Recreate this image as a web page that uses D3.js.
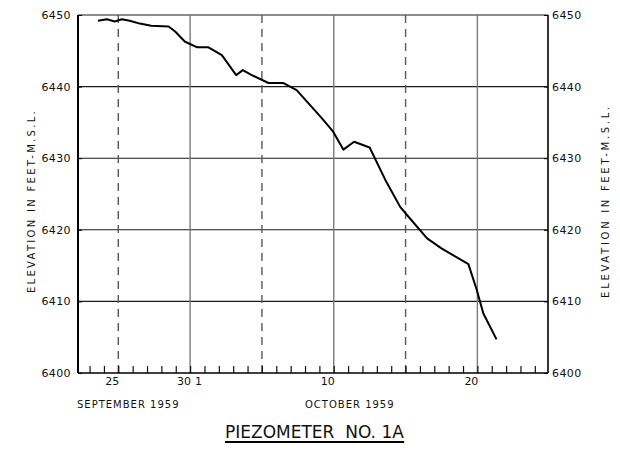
<!DOCTYPE html>
<html>
<head>
<meta charset="utf-8">
<script src="https://cdn.jsdelivr.net/npm/d3@7"></script>
<style>
  html, body { margin: 0; padding: 0; background: #fff; }
  svg { display: block; }
  text { font-family: "DejaVu Sans", sans-serif; fill: #111; }
</style>
</head>
<body>
<script>
// ---- data ----
const dates = [
  "1959-09-23 14:00", "1959-09-24 05:00", "1959-09-24 18:00", "1959-09-25 06:00",
  "1959-09-25 19:00", "1959-09-26 12:00", "1959-09-27 07:00", "1959-09-28 12:00",
  "1959-09-28 23:00", "1959-09-29 15:00", "1959-09-30 11:00", "1959-10-01 06:00",
  "1959-10-02 05:00", "1959-10-03 05:00", "1959-10-03 16:00", "1959-10-04 07:00",
  "1959-10-05 11:00", "1959-10-06 12:00", "1959-10-07 10:00", "1959-10-09 04:00",
  "1959-10-09 23:00", "1959-10-10 16:00", "1959-10-11 10:00", "1959-10-12 12:00",
  "1959-10-13 14:00", "1959-10-14 15:00", "1959-10-15 02:00", "1959-10-16 12:00",
  "1959-10-17 12:00", "1959-10-19 09:00", "1959-10-19 23:00", "1959-10-20 10:00",
  "1959-10-21 08:00"
];
const elevations = [
  6449.2, 6449.4, 6449.1, 6449.4,
  6449.2, 6448.8, 6448.5, 6448.4,
  6447.7, 6446.3, 6445.5, 6445.5,
  6444.4, 6441.6, 6442.3, 6441.6,
  6440.5, 6440.5, 6439.5, 6435.6,
  6433.7, 6431.2, 6432.3, 6431.5,
  6427.0, 6423.2, 6422.1, 6418.8,
  6417.4, 6415.2, 6411.6, 6408.3,
  6404.7
];
const yTicks = [6400, 6410, 6420, 6430, 6440, 6450];
const xDomain = ["1959-09-22 04:40", "1959-10-24 22:00"];
const dayTickRange = ["1959-09-23 00:00", "1959-10-25 00:00"];
const solidGridDates = ["1959-09-30 00:00", "1959-10-10 00:00", "1959-10-20 00:00"];
const dashedGridDates = ["1959-09-25 00:00", "1959-10-05 00:00", "1959-10-15 00:00"];
const xLabelDates = ["1959-09-25 00:00", "1959-09-30 00:00", "1959-10-01 00:00", "1959-10-10 00:00", "1959-10-20 00:00"];
const xLabelTexts = ["25", "30", "1", "10", "20"];
const monthLabels = ["SEPTEMBER 1959", "OCTOBER 1959"];
const yTitle = "ELEVATION IN FEET-M.S.L.";
const chartTitle = "PIEZOMETER  NO. 1A";

// ---- drawing ----
const W = 620, H = 457;
const parse = d3.utcParse("%Y-%m-%d %H:%M");
const mL = 78, mR = 548, mT = 15, mB = 373;

const x = d3.scaleUtc().domain(xDomain.map(parse)).range([mL, mR]);
const y = d3.scaleLinear().domain([6400, 6450]).range([mB, mT]);

const svg = d3.select("body").append("svg").attr("width", W).attr("height", H);

// horizontal grid
svg.append("g").selectAll("line").data(yTicks.filter(v => v > 6400)).join("line")
  .attr("x1", mL).attr("x2", mR)
  .attr("y1", d => y(d)).attr("y2", d => y(d))
  .attr("stroke", "#1a1a1a").attr("stroke-width", 1.1);

// vertical grid
svg.append("g").selectAll("line").data(solidGridDates.map(parse)).join("line")
  .attr("x1", d => x(d)).attr("x2", d => x(d))
  .attr("y1", mT).attr("y2", mB)
  .attr("stroke", "#7a7a7a").attr("stroke-width", 1.4);
svg.append("g").selectAll("line").data(dashedGridDates.map(parse)).join("line")
  .attr("x1", d => x(d)).attr("x2", d => x(d))
  .attr("y1", mT).attr("y2", mB)
  .attr("stroke", "#5a5a5a").attr("stroke-width", 1.4)
  .attr("stroke-dasharray", "8,6");

// day ticks on the bottom axis (pointing up)
const dayTicks = d3.utcDay.range(parse(dayTickRange[0]), parse(dayTickRange[1]));
const xAxis = d3.axisBottom(x).tickValues(dayTicks).tickSize(-7).tickFormat("");
const gx = svg.append("g").attr("transform", `translate(0,${mB})`).call(xAxis);
gx.select(".domain").remove();
gx.selectAll(".tick line").attr("stroke", "#111").attr("stroke-width", 1.2);

// frame
svg.append("line").attr("x1", mL).attr("x2", mL).attr("y1", mT).attr("y2", mB)
  .attr("stroke", "#000").attr("stroke-width", 2);
svg.append("line").attr("x1", mR).attr("x2", mR).attr("y1", mT).attr("y2", mB)
  .attr("stroke", "#000").attr("stroke-width", 1.6);
svg.append("line").attr("x1", mL).attr("x2", mR).attr("y1", mB).attr("y2", mB)
  .attr("stroke", "#000").attr("stroke-width", 1.6);

// y axes (labels)
const yl = svg.append("g").attr("transform", `translate(${mL},0)`)
  .call(d3.axisLeft(y).tickValues(yTicks).tickSize(-4).tickPadding(7).tickFormat(d3.format("d")));
yl.select(".domain").remove();
yl.selectAll(".tick line").attr("stroke", "#000");
yl.selectAll(".tick text").style("font-family", "DejaVu Sans").style("font-size", "11px")
  .attr("letter-spacing", "0.4").attr("fill", "#111");

const yr = svg.append("g").attr("transform", `translate(${mR},0)`)
  .call(d3.axisRight(y).tickValues(yTicks).tickSize(-4).tickPadding(4).tickFormat(d3.format("d")));
yr.select(".domain").remove();
yr.selectAll(".tick line").attr("stroke", "#000");
yr.selectAll(".tick text").style("font-family", "DejaVu Sans").style("font-size", "11px")
  .attr("letter-spacing", "0.4").attr("fill", "#111");

// x labels
svg.append("g").selectAll("text").data(xLabelDates.map(parse)).join("text")
  .attr("x", (d, i) => x(d) - 6).attr("y", 385)
  .attr("text-anchor", "middle").style("font-size", "11px")
  .text((d, i) => xLabelTexts[i]);

svg.append("text").attr("x", 77).attr("y", 408).style("font-size", "10px")
  .attr("letter-spacing", "1").text(monthLabels[0]);
svg.append("text").attr("x", 305).attr("y", 408).style("font-size", "10px")
  .attr("letter-spacing", "1").text(monthLabels[1]);

// y titles
svg.append("text").attr("transform", "translate(35,201) rotate(-90)")
  .attr("text-anchor", "middle").style("font-size", "10px")
  .attr("letter-spacing", "2.3").text(yTitle);
svg.append("text").attr("transform", "translate(609,201) rotate(-90)")
  .attr("text-anchor", "middle").style("font-size", "10px")
  .attr("letter-spacing", "2.7").text(yTitle);

// data line
const line = d3.line().x(d => x(d[0])).y(d => y(d[1]));
svg.append("path")
  .datum(dates.map((d, i) => [parse(d), elevations[i]]))
  .attr("d", line)
  .attr("fill", "none").attr("stroke", "#000").attr("stroke-width", 2)
  .attr("stroke-linejoin", "round");

// title
const t = svg.append("text").attr("x", 225).attr("y", 438)
  .style("font-size", "17px").style("white-space", "pre").text(chartTitle);
const tb = t.node().getBBox();
svg.append("line").attr("x1", tb.x).attr("x2", tb.x + tb.width)
  .attr("y1", 442).attr("y2", 442).attr("stroke", "#000").attr("stroke-width", 2);
</script>
</body>
</html>
